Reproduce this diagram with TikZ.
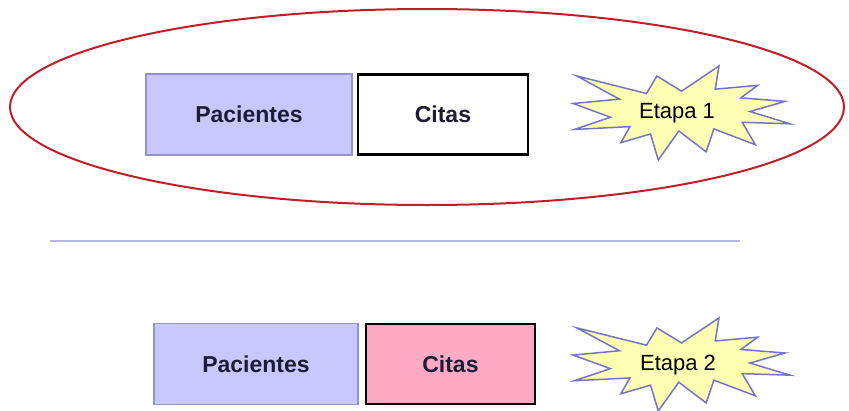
\documentclass[tikz,border=0pt]{standalone}
\usepackage{fontspec}
\setmainfont{Liberation Sans}
\usetikzlibrary{positioning}
\definecolor{lila}{HTML}{C8C8FF}
\definecolor{lilaborde}{HTML}{9494CC}
\definecolor{rosa}{HTML}{FFAAC4}
\definecolor{amarillo}{HTML}{FFFFB4}
\definecolor{estborde}{HTML}{7474C4}
\definecolor{rojo}{HTML}{C01F2A}
\definecolor{separa}{HTML}{B8B8DC}
\definecolor{tinta}{HTML}{1C1C34}

\begin{document}
\begin{tikzpicture}[
  x=1pt,
  y=-1pt,
  every node/.style={font=\fontsize{23}{26}\selectfont\bfseries, tinta},
  tabla/.style={draw=lilaborde, line width=1.5pt, fill=lila,
    minimum height=81pt, inner sep=0pt},
  citas/.style={draw=black, line width=2.4pt, minimum height=80pt,
    inner sep=0pt},
  burst/.style={draw=estborde, line width=1.5pt, fill=amarillo,
    line join=miter},
  etiqueta/.style={font=\fontsize{22}{24}\selectfont, black, inner sep=0pt,
    anchor=base},
  estallido/.pic={
    \draw[burst] (108,58) -- (145.22,0) -- (141.55,53.25) -- (183.8,44.57)
      -- (167.02,73.15) -- (210.97,81.37) -- (176.07,104.75) -- (216,132.9)
      -- (168.37,129.42) -- (181.45,180.95) -- (140.2,144.57)
      -- (132.47,197.37) -- (105.32,149.35) -- (84.85,216) -- (77.15,156.27)
      -- (47.62,176.17) -- (56.67,139.37) -- (1.35,145.87) -- (37.22,117.75)
      -- (0,86.15) -- (46.27,76.17) -- (3.7,22.95) -- (73.12,63.2)
      -- (83.52,22.95) -- cycle;
  }
]
  \useasboundingbox (0,0) rectangle (849,410);

  % ================= etapa 1 ============================================
  \draw[rojo, line width=2pt] (427,107) ellipse [x radius=417, y radius=98];

  \node[tabla, minimum width=206pt] (pac1) at (249,114.5) {Pacientes};
  \node[citas, fill=white, minimum width=170pt, right=4pt of pac1] (cit1)
    {Citas};

  \begin{scope}[shift={(573,66)}, x=1.005pt, y=-0.435pt]
    \pic {estallido};
  \end{scope}
  \node[etiqueta] (etapa1) at (677,118) {Etapa 1};

  % ================= separador ==========================================
  \coordinate (sepa) at (50,241);
  \coordinate (sepb) at (740,241);
  \draw[separa, line width=1.5pt] (sepa) -- (sepb);

  % ================= etapa 2 ============================================
  \node[tabla, minimum width=204pt] (pac2) at (256,364) {Pacientes};
  \node[citas, fill=rosa, minimum width=169pt, right=6pt of pac2] (cit2)
    {Citas};

  \begin{scope}[shift={(573,318)}, x=1.005pt, y=-0.43pt]
    \pic {estallido};
  \end{scope}
  \node[etiqueta] (etapa2) at (678,370) {Etapa 2};
\end{tikzpicture}
\end{document}
